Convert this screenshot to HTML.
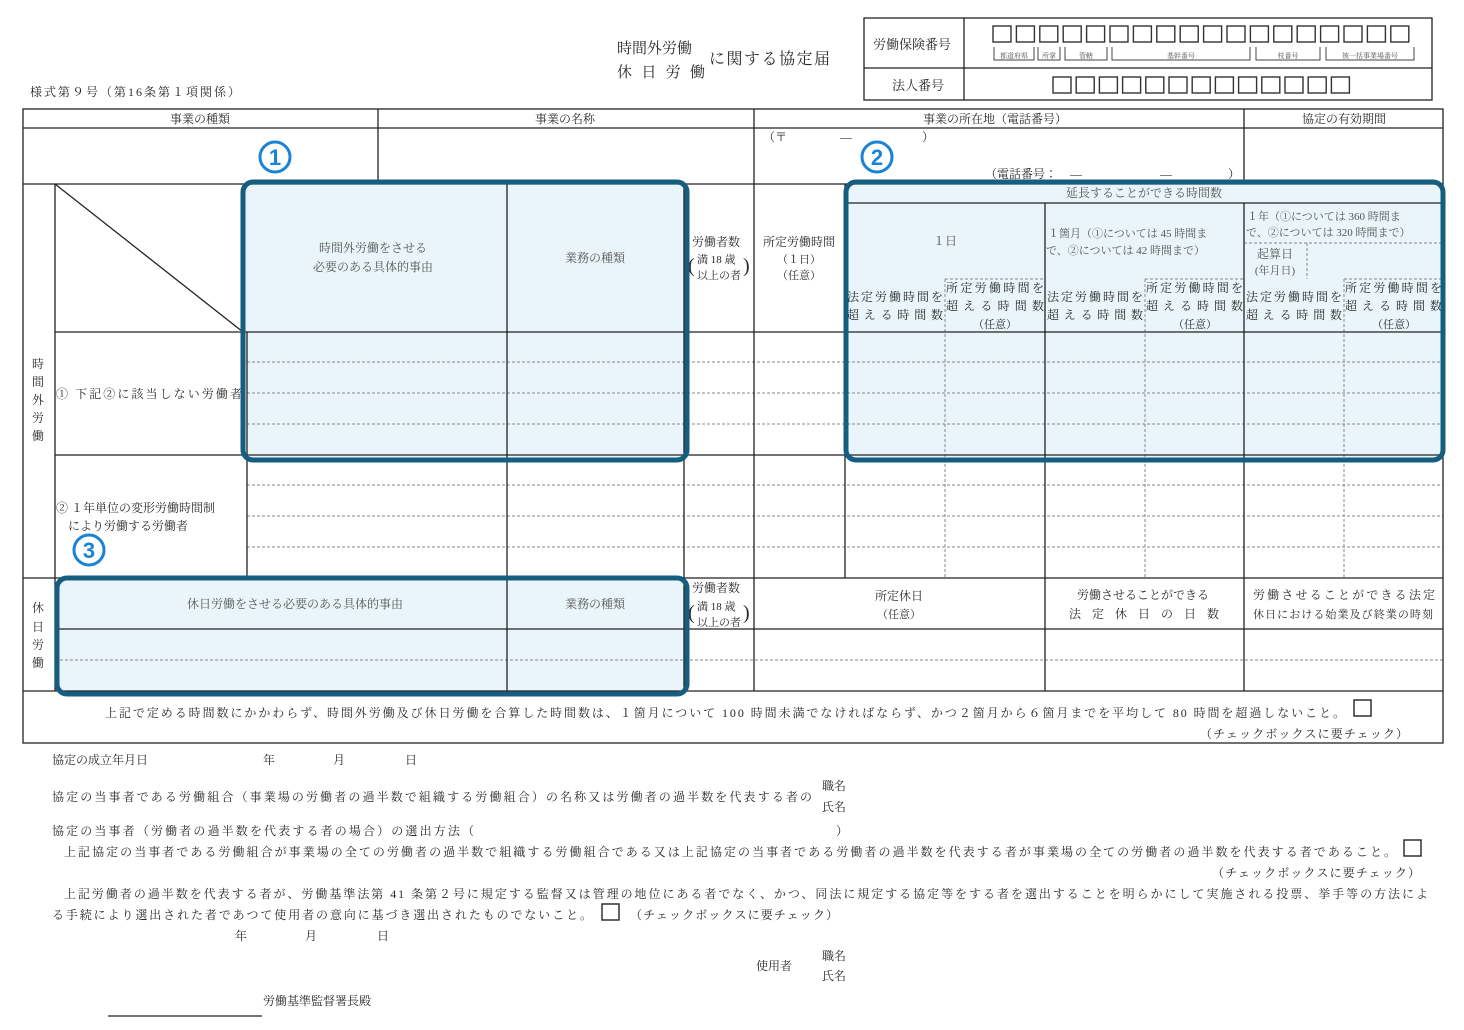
<!DOCTYPE html>
<html><head><meta charset="utf-8">
<style>
html,body{margin:0;padding:0;background:#fff;}
svg{display:block;}
text{font-family:"Liberation Serif","Noto Serif CJK JP","Noto Sans CJK JP",serif;fill:#2a2a2a;font-size:12px;}
.s{font-size:11px;}
.t{font-size:7px;fill:#555;}
.c{text-anchor:middle;}
.g{fill:#555;}
</style></head><body>
<svg width="1464" height="1030" viewBox="0 0 1464 1030" xmlns="http://www.w3.org/2000/svg">
<!-- title -->
<text x="617" y="53" style="font-size:15px">時間外労働</text>
<text x="617" y="77" style="font-size:15px" textLength="88">休 日 労 働</text>
<text x="709" y="64" style="font-size:16px" textLength="121">に関する協定届</text>
<text x="30" y="96" textLength="210">様式第９号（第16条第１項関係）</text>

<!-- top-right box -->
<g stroke="#222" stroke-width="1.3" fill="none">
<rect x="864" y="18" width="568" height="82"/>
<line x1="864" y1="68" x2="1432" y2="68"/>
<line x1="964" y1="18" x2="964" y2="100"/>
</g>
<text x="873" y="49" style="font-size:13px">労働保険番号</text>
<text x="892" y="90" style="font-size:13px">法人番号</text>
<g stroke="#333" stroke-width="1.4" fill="none">
<rect x="993" y="26" width="18" height="16"/><rect x="1016.4" y="26" width="18" height="16"/><rect x="1039.8" y="26" width="18" height="16"/><rect x="1063.2" y="26" width="18" height="16"/><rect x="1086.6" y="26" width="18" height="16"/><rect x="1110" y="26" width="18" height="16"/><rect x="1133.4" y="26" width="18" height="16"/><rect x="1156.8" y="26" width="18" height="16"/><rect x="1180.2" y="26" width="18" height="16"/><rect x="1203.6" y="26" width="18" height="16"/><rect x="1227" y="26" width="18" height="16"/><rect x="1250.4" y="26" width="18" height="16"/><rect x="1273.8" y="26" width="18" height="16"/><rect x="1297.2" y="26" width="18" height="16"/><rect x="1320.6" y="26" width="18" height="16"/><rect x="1344" y="26" width="18" height="16"/><rect x="1367.4" y="26" width="18" height="16"/><rect x="1390.8" y="26" width="18" height="16"/>
<rect x="1053" y="77" width="18" height="16"/><rect x="1076.2" y="77" width="18" height="16"/><rect x="1099.4" y="77" width="18" height="16"/><rect x="1122.6" y="77" width="18" height="16"/><rect x="1145.8" y="77" width="18" height="16"/><rect x="1169" y="77" width="18" height="16"/><rect x="1192.2" y="77" width="18" height="16"/><rect x="1215.4" y="77" width="18" height="16"/><rect x="1238.6" y="77" width="18" height="16"/><rect x="1261.8" y="77" width="18" height="16"/><rect x="1285" y="77" width="18" height="16"/><rect x="1308.2" y="77" width="18" height="16"/><rect x="1331.4" y="77" width="18" height="16"/>
</g>
<g stroke="#444" stroke-width="1" fill="none">
<path d="M994 47v13h40v-13M1038 47v13h22v-13M1065 47v13h42v-13M1112 47v13h138v-13M1256 47v13h64v-13M1326 47v13h88v-13"/>
</g>
<text x="1014" y="58" class="t c">都道府県</text>
<text x="1049" y="58" class="t c">所掌</text>
<text x="1086" y="58" class="t c">管轄</text>
<text x="1181" y="58" class="t c">基幹番号</text>
<text x="1288" y="58" class="t c">枝番号</text>
<text x="1370" y="58" class="t c">被一括事業場番号</text>

<!-- blue fills -->
<g fill="#e9f5fb">
<rect x="243" y="182" width="444" height="277" rx="10"/>
<rect x="846" y="182" width="597" height="277" rx="10"/>
<rect x="57" y="578" width="630" height="115" rx="10"/>
</g>

<!-- dashed lines -->
<g stroke="#888" stroke-width="1" stroke-dasharray="3,2" fill="none">
<path d="M247 362H1443M247 393H1443M247 424H1443M247 485H1443M247 516H1443M247 547H1443M55 660H1443"/>
<path d="M945 279V578M1145 279V578M1344 279V578M945 279H1045M1145 279H1244M1344 279H1443M1244 243H1443M1307 243V279"/>
</g>

<!-- main grid -->
<g stroke="#222" stroke-width="1.3" fill="none">
<rect x="23" y="109" width="1420" height="634"/>
<path d="M23 128H1443M23 184H1443M55 332H1443M55 455H1443M23 578H1443M55 629H1443M23 691H1443M845 203H1443"/>
<path d="M378 109V184M754 109V691M1244 109V184M55 184V691M247 332V578M507 184V691M684 184V691M845 184V578M1045 203V691M1244 203V691"/>
<line x1="55" y1="184" x2="243" y2="332"/>
</g>

<!-- header texts -->
<text x="200" y="123" class="c">事業の種類</text>
<text x="565" y="123" class="c">事業の名称</text>
<text x="995" y="123" class="c">事業の所在地（電話番号）</text>
<text x="1344" y="123" class="c">協定の有効期間</text>
<text x="763" y="141">（〒</text><text x="840" y="141">—</text><text x="922" y="141">）</text>
<text x="985" y="178">（電話番号：</text><text x="1070" y="178">—</text><text x="1160" y="178">—</text><text x="1228" y="178">）</text>

<!-- overtime header -->
<text x="373" y="252" class="c g">時間外労働をさせる</text>
<text x="373" y="271" class="c g">必要のある具体的事由</text>
<text x="595" y="262" class="c g">業務の種類</text>
<text x="692" y="246">労働者数</text>
<text x="697" y="263" class="s">満 18 歳</text>
<text x="697" y="279" class="s">以上の者</text>
<text x="688" y="272" style="font-size:20px">(</text><text x="743" y="272" style="font-size:20px">)</text>
<text x="799" y="246" class="c">所定労働時間</text>
<text x="799" y="263" class="c s">（１日）</text>
<text x="799" y="279" class="c s">（任意）</text>

<text x="1144" y="197" class="c g">延長することができる時間数</text>
<text x="945" y="245" class="c g">１日</text>
<text x="1048" y="237" class="s g">１箇月（①については 45 時間ま</text>
<text x="1046" y="254" class="s g">で、②については 42 時間まで）</text>
<text x="1247" y="220" class="s g">１年（①については 360 時間ま</text>
<text x="1246" y="236" class="s g">で、②については 320 時間まで）</text>
<text x="1275" y="258" class="c g">起算日</text>
<text x="1275" y="274" class="c s g">(年月日)</text>

<g class="g">
<text x="847" y="301" textLength="96">法定労働時間を</text>
<text x="847" y="319" textLength="96">超える時間数</text>
<text x="946" y="292" textLength="98">所定労働時間を</text>
<text x="946" y="310" textLength="98">超える時間数</text>
<text x="995" y="328" class="c s">（任意）</text>
<text x="1047" y="301" textLength="96">法定労働時間を</text>
<text x="1047" y="319" textLength="96">超える時間数</text>
<text x="1146" y="292" textLength="97">所定労働時間を</text>
<text x="1146" y="310" textLength="97">超える時間数</text>
<text x="1195" y="328" class="c s">（任意）</text>
<text x="1246" y="301" textLength="96">法定労働時間を</text>
<text x="1246" y="319" textLength="96">超える時間数</text>
<text x="1345" y="292" textLength="97">所定労働時間を</text>
<text x="1345" y="310" textLength="97">超える時間数</text>
<text x="1394" y="328" class="c s">（任意）</text>
</g>

<!-- left labels -->
<text x="38" y="368" class="c">時</text><text x="38" y="386" class="c">間</text><text x="38" y="404" class="c">外</text><text x="38" y="422" class="c">労</text><text x="38" y="440" class="c">働</text>
<text x="56" y="398" textLength="186">① 下記②に該当しない労働者</text>
<text x="56" y="512">② １年単位の変形労働時間制</text>
<text x="68" y="530">により労働する労働者</text>

<!-- holiday -->
<text x="38" y="612" class="c">休</text><text x="38" y="631" class="c">日</text><text x="38" y="649" class="c">労</text><text x="38" y="667" class="c">働</text>
<text x="295" y="608" class="c g">休日労働をさせる必要のある具体的事由</text>
<text x="595" y="608" class="c g">業務の種類</text>
<text x="692" y="592">労働者数</text>
<text x="697" y="610" class="s">満 18 歳</text>
<text x="697" y="626" class="s">以上の者</text>
<text x="688" y="619" style="font-size:20px">(</text><text x="743" y="619" style="font-size:20px">)</text>
<text x="899" y="600" class="c">所定休日</text>
<text x="899" y="618" class="c s">（任意）</text>
<text x="1143" y="599" class="c">労働させることができる</text>
<text x="1069" y="618" textLength="150">法定休日の日数</text>
<text x="1253" y="599" textLength="182">労働させることができる法定</text>
<text x="1253" y="618" class="s" textLength="180">休日における始業及び終業の時刻</text>

<!-- note row -->
<text x="105" y="717" textLength="1240">上記で定める時間数にかかわらず、時間外労働及び休日労働を合算した時間数は、１箇月について 100 時間未満でなければならず、かつ２箇月から６箇月までを平均して 80 時間を超過しないこと。</text>
<rect x="1354" y="700" width="17" height="16" fill="none" stroke="#222" stroke-width="1.4"/>
<text x="1200" y="738" textLength="208">（チェックボックスに要チェック）</text>

<!-- blue outlines -->
<g fill="none" stroke="#155e80" stroke-width="5">
<rect x="243" y="182" width="444" height="278" rx="10"/>
<rect x="846" y="182" width="597" height="278" rx="10"/>
<rect x="57" y="578" width="630" height="116" rx="10"/>
</g>
<g fill="none" stroke="#1b83d6" stroke-width="3">
<circle cx="275" cy="157" r="15"/><circle cx="877" cy="157" r="15"/><circle cx="89" cy="550" r="15"/>
</g>
<text x="275" y="165" class="c" style="fill:#1b83d6;font-family:'Liberation Sans',sans-serif;font-size:22px;font-weight:bold">1</text>
<text x="877" y="165" class="c" style="fill:#1b83d6;font-family:'Liberation Sans',sans-serif;font-size:22px;font-weight:bold">2</text>
<text x="89" y="558" class="c" style="fill:#1b83d6;font-family:'Liberation Sans',sans-serif;font-size:22px;font-weight:bold">3</text>

<!-- bottom -->
<text x="52" y="764">協定の成立年月日</text>
<text x="263" y="764">年</text><text x="333" y="764">月</text><text x="405" y="764">日</text>
<text x="52" y="801" textLength="760">協定の当事者である労働組合（事業場の労働者の過半数で組織する労働組合）の名称又は労働者の過半数を代表する者の</text>
<text x="822" y="790">職名</text><text x="822" y="811">氏名</text>
<text x="52" y="835" textLength="422">協定の当事者（労働者の過半数を代表する者の場合）の選出方法（</text>
<text x="836" y="835">）</text>
<text x="64" y="856" textLength="1332">上記協定の当事者である労働組合が事業場の全ての労働者の過半数で組織する労働組合である又は上記協定の当事者である労働者の過半数を代表する者が事業場の全ての労働者の過半数を代表する者であること。</text>
<rect x="1404" y="840" width="17" height="16" fill="none" stroke="#222" stroke-width="1.4"/>
<text x="1212" y="877" textLength="208">（チェックボックスに要チェック）</text>
<text x="64" y="898" textLength="1364">上記労働者の過半数を代表する者が、労働基準法第 41 条第２号に規定する監督又は管理の地位にある者でなく、かつ、同法に規定する協定等をする者を選出することを明らかにして実施される投票、挙手等の方法によ</text>
<text x="52" y="919" textLength="540">る手続により選出された者であつて使用者の意向に基づき選出されたものでないこと。</text>
<rect x="602" y="904" width="17" height="16" fill="none" stroke="#222" stroke-width="1.4"/>
<text x="630" y="919" textLength="208">（チェックボックスに要チェック）</text>
<text x="235" y="940">年</text><text x="305" y="940">月</text><text x="377" y="940">日</text>
<text x="756" y="970">使用者</text>
<text x="822" y="960">職名</text><text x="822" y="980">氏名</text>
<text x="263" y="1005">労働基準監督署長殿</text>
<line x1="108" y1="1016" x2="262" y2="1016" stroke="#222" stroke-width="1.3"/>
</svg>
</body></html>
